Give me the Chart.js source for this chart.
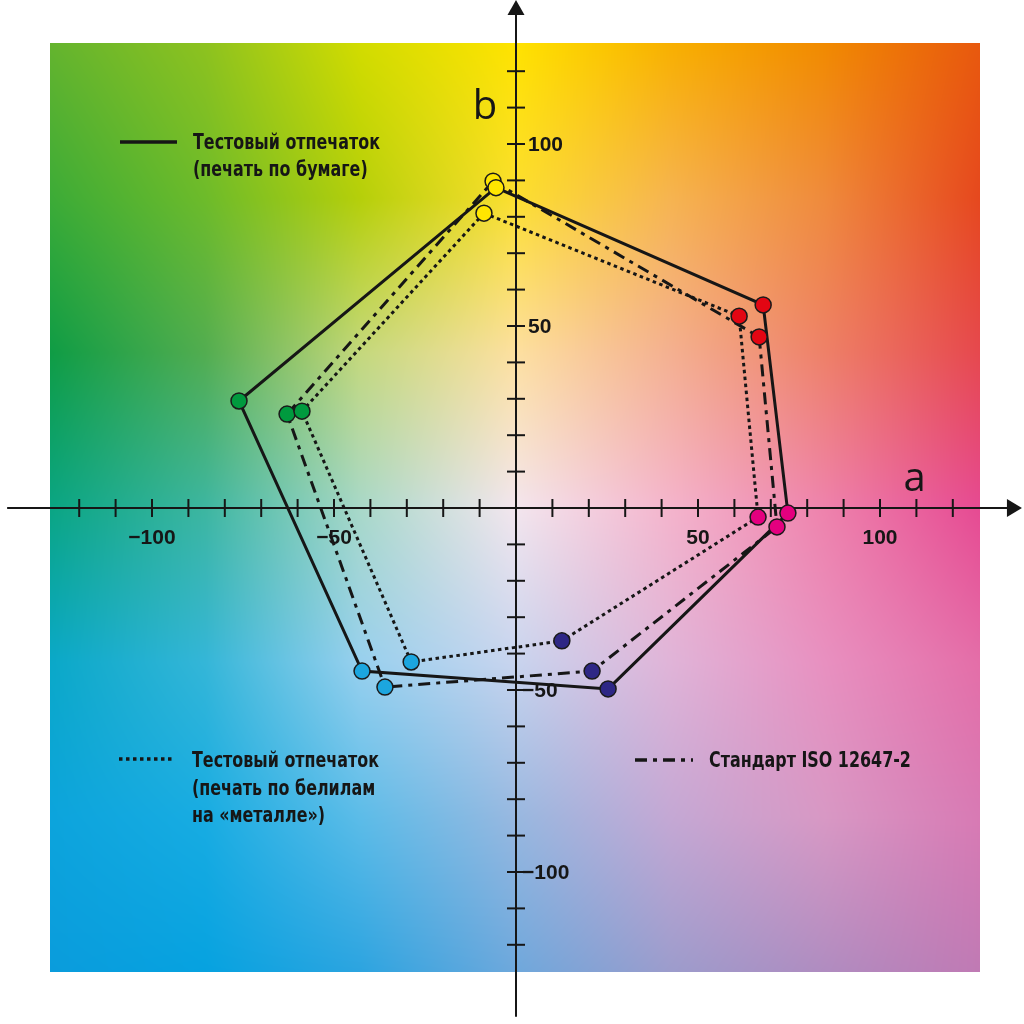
<!DOCTYPE html>
<html><head><meta charset="utf-8">
<script src="https://cdn.jsdelivr.net/npm/chart.js@4.4.1/dist/chart.umd.min.js"></script>
<style>html,body{margin:0;padding:0;background:#fff;}#wrap{width:1024px;height:1024px;position:relative;}</style>
</head><body><div id="wrap"><canvas id="c" width="1024" height="1024"></canvas></div>
<script>
// ---- data (a*, b*) ----
const categories = ['Y', 'R', 'M', 'B', 'C', 'G'];
const paperA = [-5.5, 67.9, 74.7, 25.3, -42.3, -76.1];
const paperB = [88.0, 55.8, -1.4, -49.7, -44.8, 29.4];
const metalA = [-8.8, 61.3, 66.5, 12.6, -28.8, -58.8];
const metalB = [81.0, 52.7, -2.5, -36.5, -42.3, 26.6];
const isoA = [-6.3, 66.8, 71.7, 20.9, -36.0, -62.9];
const isoB = [89.8, 47.0, -5.2, -44.8, -49.2, 25.8];
const tickLabelValues = [-100, -50, 50, 100];
const tickLabelTextsX = ['\u2212100', '\u221250', '50', '100'];
const tickLabelTextsY = ['\u2212100', '\u221250', '50', '100'];
const legendPaper = ['Тестовый отпечаток', '(печать по бумаге)'];
const legendMetal = ['Тестовый отпечаток', '(печать по белилам', 'на «металле»)'];
const legendIso = ['Стандарт ISO 12647-2'];

// ---- style ----
const markerColors = ['#ffe600', '#e30613', '#e4007f', '#2e2785', '#1ca6df', '#009a3e'];
const INK = '#161616';
const bgGrid = [
  ['#64b42e','#8dc21f','#d2dc00','#ffe300','#f8b000','#f18a00','#e8590e'],
  ['#3cab37','#6dbb2a','#b5cf0a','#fcdf30','#f6b450','#ef8a3c','#e6481e'],
  ['#0f9c45','#52ad50','#c4d87c','#fde0a0','#f4b090','#ee8068','#e6484e'],
  ['#0aa583','#3db6a0','#a8d8c8','#f3e6ee','#f4b4cc','#ee82ac','#e64a92'],
  ['#0aa8c8','#34b6d8','#98d0ee','#c8d4ee','#e0b4d8','#e890c0','#e46ea8'],
  ['#0ca4dc','#18ace2','#5cbce8','#98b8e0','#c4a8d4','#d898c4','#d87ab4'],
  ['#0a9cdc','#06a2e0','#2ca4e0','#6ea8dc','#9c9ccc','#b08cc0','#c07ab4']
];

function hex(h){return [parseInt(h.slice(1,3),16),parseInt(h.slice(3,5),16),parseInt(h.slice(5,7),16)];}
const gridRGB = bgGrid.map(r=>r.map(hex));
let bgCache = null;

const bgPlugin = {
  id: 'labBackground',
  beforeDatasetsDraw(chart){
    const ctx = chart.ctx, xs = chart.scales.x, ys = chart.scales.y;
    const L = Math.round(xs.getPixelForValue(-128)), R = Math.round(xs.getPixelForValue(127.5));
    const T = Math.round(ys.getPixelForValue(127.7)), B = Math.round(ys.getPixelForValue(-127.5));
    const w = R-L, h = B-T;
    if(!bgCache){
      const off = document.createElement('canvas'); off.width=w; off.height=h;
      const octx = off.getContext('2d'); const img = octx.createImageData(w,h);
      const n = gridRGB.length-1;
      for(let y=0;y<h;y++){
        const v = y/(h-1)*n; const j = Math.min(Math.floor(v), n-1); const fy = v-j;
        for(let x=0;x<w;x++){
          const u = x/(w-1)*n; const i = Math.min(Math.floor(u), n-1); const fx = u-i;
          const c00=gridRGB[j][i], c10=gridRGB[j][i+1], c01=gridRGB[j+1][i], c11=gridRGB[j+1][i+1];
          const k=(y*w+x)*4;
          for(let ch=0;ch<3;ch++){
            const top=c00[ch]*(1-fx)+c10[ch]*fx, bot=c01[ch]*(1-fx)+c11[ch]*fx;
            img.data[k+ch]=top*(1-fy)+bot*fy;
          }
          img.data[k+3]=255;
        }
      }
      octx.putImageData(img,0,0); bgCache = off;
    }
    ctx.save();
    ctx.drawImage(bgCache, L, T);
    // axes
    const x0 = xs.getPixelForValue(0), y0 = ys.getPixelForValue(0);
    ctx.strokeStyle = INK; ctx.fillStyle = INK; ctx.lineWidth = 2;
    const xl = xs.getPixelForValue(-139.8), xr = xs.getPixelForValue(139.0);
    const yt = ys.getPixelForValue(139.56), yb = ys.getPixelForValue(-139.8);
    ctx.beginPath(); ctx.moveTo(xl, y0); ctx.lineTo(xr-14, y0); ctx.stroke();
    ctx.beginPath(); ctx.moveTo(xr, y0); ctx.lineTo(xr-15, y0-9); ctx.lineTo(xr-15, y0+9); ctx.closePath(); ctx.fill();
    ctx.beginPath(); ctx.moveTo(x0, yb); ctx.lineTo(x0, yt+14); ctx.stroke();
    ctx.beginPath(); ctx.moveTo(x0, yt); ctx.lineTo(x0-8.5, yt+15); ctx.lineTo(x0+8.5, yt+15); ctx.closePath(); ctx.fill();
    // ticks
    for(let v=-120; v<=120; v+=10){
      if(v===0) continue;
      const px = xs.getPixelForValue(v), py = ys.getPixelForValue(v);
      ctx.beginPath(); ctx.moveTo(px, y0-9); ctx.lineTo(px, y0+9); ctx.stroke();
      ctx.beginPath(); ctx.moveTo(x0-9, py); ctx.lineTo(x0+9, py); ctx.stroke();
    }
    // tick labels
    ctx.font = 'bold 21px "Liberation Sans", Arial, sans-serif';
    ctx.textAlign = 'center'; ctx.textBaseline = 'alphabetic';
    tickLabelValues.forEach((v,i)=>{ ctx.fillText(tickLabelTextsX[i], xs.getPixelForValue(v), y0+36); });
    ctx.textAlign = 'left'; ctx.textBaseline = 'middle';
    tickLabelValues.forEach((v,i)=>{ ctx.fillText(tickLabelTextsY[i], x0 + (v<0?6:12), ys.getPixelForValue(v)+1); });
    // axis names
    ctx.font = '40px "Open Sans", "Noto Sans", sans-serif';
    ctx.textAlign = 'center'; ctx.textBaseline = 'alphabetic';
    ctx.fillText('b', x0-31, 119);
    ctx.fillText('a', xs.getPixelForValue(109.5), y0-17);
    ctx.restore();
  },
  afterDatasetsDraw(chart){
    const ctx = chart.ctx;
    ctx.save();
    ctx.strokeStyle = INK; ctx.fillStyle = INK;
    ctx.font = 'bold 21px "Liberation Sans Narrow", "DejaVu Sans Condensed", sans-serif';
    ctx.textAlign = 'left'; ctx.textBaseline = 'alphabetic';
    function sample(x1,x2,y,dash){
      ctx.beginPath(); ctx.lineWidth = 3.5; ctx.setLineDash(dash); ctx.lineCap = 'butt';
      ctx.moveTo(x1,y); ctx.lineTo(x2,y); ctx.stroke(); ctx.setLineDash([]);
    }
    function txt(t,x,y,targetW){
      const m = ctx.measureText(legendPaper[0]).width;
      const s = Math.min(1, 187/m);
      ctx.save(); ctx.translate(x,y); ctx.scale(s,1); ctx.fillText(t,0,0); ctx.restore();
    }
    sample(120,177,142,[]);
    legendPaper.forEach((t,i)=>txt(t,193,149+i*27));
    sample(119,173,759,[3.5,3.5]);
    legendMetal.forEach((t,i)=>txt(t,192,767+i*27.5));
    sample(635,693,760,[12,6,4,6]);
    legendIso.forEach((t)=>txt(t,709,767));
    ctx.restore();
  }
};

function pts(A,B){ return A.map((a,i)=>({x:a, y:B[i]})); }
function closed(A,B){ const p = pts(A,B); p.push(p[0]); return p; }
function lineDs(label,A,B,dash){
  return {label, data: closed(A,B), showLine:true, borderColor:INK, borderWidth:3, borderDash:dash,
          pointRadius:0, tension:0, fill:false, borderCapStyle:'butt', borderJoinStyle:'miter', order:2};
}
function pointDs(label,A,B){
  return {label, data: pts(A,B), showLine:false, pointRadius:8, pointBackgroundColor:markerColors,
          pointBorderColor:'#1a1a1a', pointBorderWidth:1.5, pointHoverRadius:8, order:1};
}

new Chart(document.getElementById('c'), {
  type: 'scatter',
  data: { labels: categories, datasets: [
    pointDs('paper points', paperA, paperB),
    pointDs('metal points', metalA, metalB),
    pointDs('iso points', isoA, isoB),
    lineDs('Тестовый отпечаток (печать по бумаге)', paperA, paperB, []),
    lineDs('Тестовый отпечаток (печать по белилам на «металле»)', metalA, metalB, [3.5,3.5]),
    lineDs('Стандарт ISO 12647-2', isoA, isoB, [12,6,4,6])
  ]},
  options: {
    responsive:false, animation:false, devicePixelRatio:1, events:[],
    layout:{padding:0, autoPadding:false},
    scales:{
      x:{type:'linear', min:-141.76, max:139.56, display:false},
      y:{type:'linear', min:-141.76, max:139.56, display:false}
    },
    plugins:{legend:{display:false}, tooltip:{enabled:false}}
  },
  plugins:[bgPlugin]
});
</script></body></html>
